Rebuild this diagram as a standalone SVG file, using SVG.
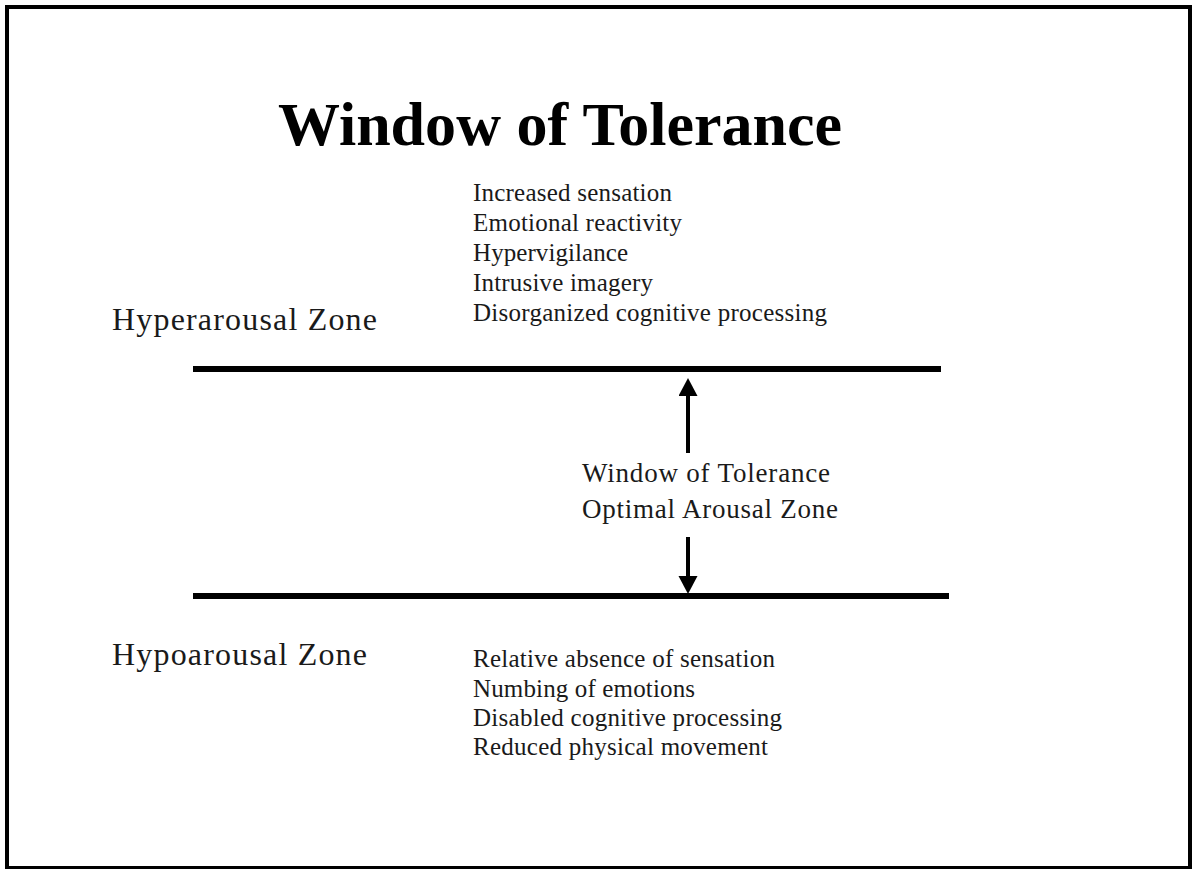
<svg xmlns="http://www.w3.org/2000/svg" width="1194" height="869" viewBox="0 0 1194 869">
<style>
.t{font-family:"Liberation Serif","Times New Roman",serif;fill:#1a1a1a;font-size:25px}
.z{font-size:32px}
.m{font-size:27px}
.title{font-family:"Liberation Serif","Times New Roman",serif;font-weight:bold;font-size:62px;fill:#000}
.bar{stroke:#000;stroke-width:6;fill:none}
.arr{stroke:#000;stroke-width:4;fill:none}
</style>
<defs>
<marker id="head" markerUnits="userSpaceOnUse" markerWidth="20" markerHeight="20" refX="0" refY="9.5" orient="auto">
<path d="M0,0 L18,9.5 L0,19 z" fill="#000"/>
</marker>
</defs>
<rect x="7" y="7" width="1183" height="861" fill="#fff" stroke="#000" stroke-width="4"/>
<g id="title"><text class="title" x="278" y="145" textLength="564" lengthAdjust="spacingAndGlyphs">Window of Tolerance</text></g>
<g id="hyper-label"><text class="t z" x="112" y="330" textLength="265" lengthAdjust="spacing">Hyperarousal  Zone</text></g>
<g id="hyper-list">
<text class="t" x="473" y="201" textLength="199" lengthAdjust="spacing">Increased sensation</text>
<text class="t" x="473" y="231" textLength="209" lengthAdjust="spacing">Emotional reactivity</text>
<text class="t" x="473" y="261" textLength="155" lengthAdjust="spacing">Hypervigilance</text>
<text class="t" x="473" y="291" textLength="180" lengthAdjust="spacing">Intrusive imagery</text>
<text class="t" x="473" y="321" textLength="354" lengthAdjust="spacing">Disorganized cognitive processing</text>
</g>
<g id="window-label">
<text class="t m" x="582" y="482" textLength="248" lengthAdjust="spacing">Window of Tolerance</text>
<text class="t m" x="582" y="518" textLength="256" lengthAdjust="spacing">Optimal Arousal Zone</text>
</g>
<g id="hypo-label"><text class="t z" x="112" y="665" textLength="255" lengthAdjust="spacing">Hypoarousal  Zone</text></g>
<g id="hypo-list">
<text class="t" x="473" y="667" textLength="302" lengthAdjust="spacing">Relative absence of sensation</text>
<text class="t" x="473" y="697" textLength="222" lengthAdjust="spacing">Numbing of emotions</text>
<text class="t" x="473" y="726" textLength="309" lengthAdjust="spacing">Disabled cognitive processing</text>
<text class="t" x="473" y="755" textLength="295" lengthAdjust="spacing">Reduced physical movement</text>
</g>
<g id="connectors">
<line class="bar" x1="193" y1="369" x2="941" y2="369"/>
<line class="bar" x1="193" y1="596" x2="949" y2="596"/>
<line class="arr" x1="688" y1="453" x2="688" y2="396" marker-end="url(#head)"/>
<line class="arr" x1="688" y1="537" x2="688" y2="576" marker-end="url(#head)"/>
</g>
</svg>
